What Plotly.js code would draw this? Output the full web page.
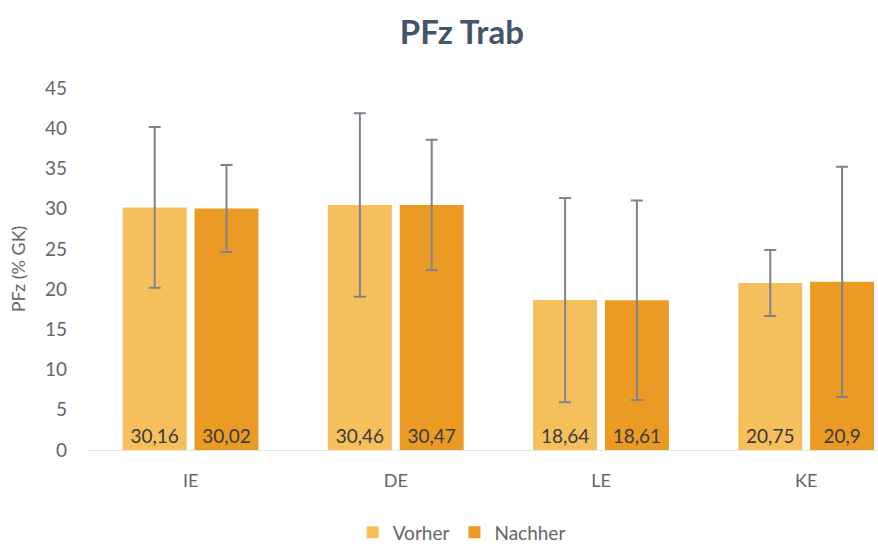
<!DOCTYPE html>
<html><head><meta charset="utf-8">
<script src="https://cdn.plot.ly/plotly-3.0.1.min.js"></script>
<style>html,body{margin:0;padding:0;background:#fff}#c{width:878px;height:544px}</style>
</head><body><div id="c"></div>
<script>
const categories = ["IE", "DE", "LE", "KE"];
const vorher = [30.16, 30.46, 18.64, 20.75];
const nachher = [30.02, 30.47, 18.61, 20.9];
const vorherSD = [10.0, 11.4, 12.7, 4.1];
const nachherSD = [5.4, 8.1, 12.4, 14.3];
const yTicks = [0, 5, 10, 15, 20, 25, 30, 35, 40, 45];

const fmt = v => String(v).replace('.', ',');
const font = "Lato, 'Open Sans', sans-serif";

const traces = [
  {type: 'bar', name: 'Vorher', x: categories, y: vorher,
   marker: {color: '#f5bf5c'},
   text: vorher.map(fmt), textposition: 'inside', insidetextanchor: 'start',
   textfont: {family: font, size: 19, color: '#3a3a3a'}, textangle: 0,
   error_y: {type: 'data', array: vorherSD, visible: true, color: '#80838f', thickness: 2, width: 6}},
  {type: 'bar', name: 'Nachher', x: categories, y: nachher,
   marker: {color: '#eb9b24'},
   text: nachher.map(fmt), textposition: 'inside', insidetextanchor: 'start',
   textfont: {family: font, size: 19, color: '#3a3a3a'}, textangle: 0,
   error_y: {type: 'data', array: nachherSD, visible: true, color: '#80838f', thickness: 2, width: 6}}
];

const layout = {
  width: 878, height: 544,
  margin: {l: 88, r: 0, t: 88, b: 94, autoexpand: false},
  paper_bgcolor: '#fff', plot_bgcolor: '#fff',
  font: {family: font, color: '#666666'},
  title: {text: '<b>PFz Trab</b>', x: 0.526, xref: 'container', xanchor: 'center', y: 0.94, yref: 'container', yanchor: 'middle',
          font: {family: font, size: 33, color: '#44546a'}},
  barmode: 'group', bargap: 0.30, bargroupgap: 0.11,
  xaxis: {range: [-0.5, 3.35], showgrid: false, showline: true, linecolor: '#e6e6e6', linewidth: 1,
          ticks: '', ticklabelstandoff: 14, tickfont: {family: font, size: 18, color: '#666666'}},
  yaxis: {range: [0, 45], tickvals: yTicks, showgrid: false, zeroline: false, showline: false,
          ticks: '', ticklabelstandoff: 20, tickfont: {family: font, size: 19, color: '#666666'},
          title: {text: 'PFz (% GK)', font: {family: font, size: 18, color: '#666666'}, standoff: 14}},
  legend: {orientation: 'h', x: 0.473, xanchor: 'center', y: -0.175, yanchor: 'top',
           font: {family: font, size: 19, color: '#666666'}, itemwidth: 30, traceorder: 'normal'},
  showlegend: true
};

Plotly.newPlot('c', traces, layout, {displayModeBar: false, staticPlot: true});
</script></body></html>
